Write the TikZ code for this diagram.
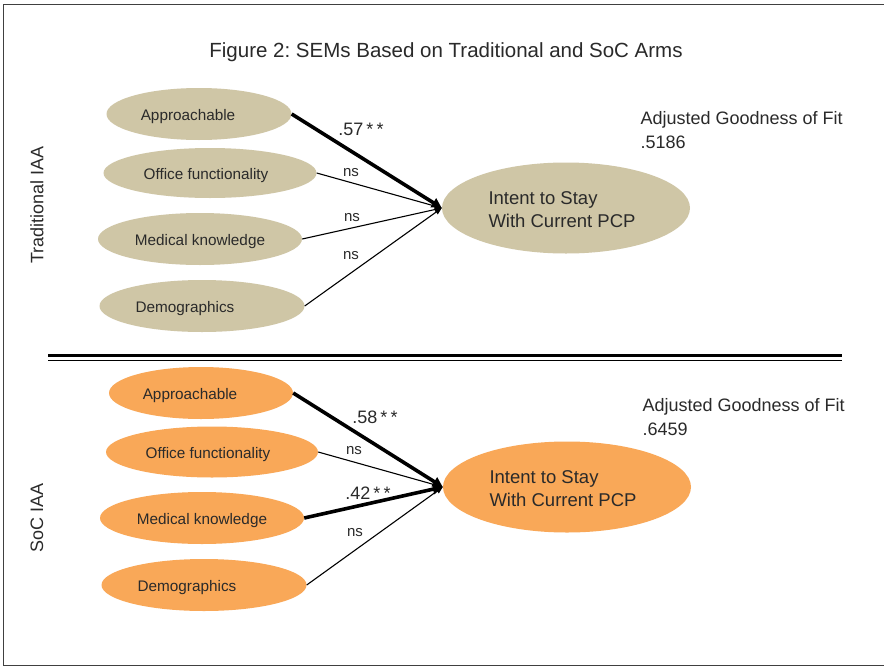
\documentclass[tikz,border=0pt]{standalone}
\usepackage{fontspec}
\setmainfont{Liberation Sans}
\usetikzlibrary{shapes.geometric,arrows.meta}
\definecolor{tanfill}{HTML}{CFC6A6}
\definecolor{orngfill}{HTML}{F9A858}
\definecolor{ink}{HTML}{2A2A2A}

\begin{document}
\begin{tikzpicture}[x=1pt,y=-1pt,
  factor/.style={ellipse, inner sep=0pt, draw=none, minimum height=52pt},
  outcome/.style={ellipse, inner sep=0pt, draw=none, minimum width=248pt, minimum height=91pt},
  ftext/.style={text=ink, yshift=-3pt, font=\fontsize{15.3}{17}\selectfont},
  otext/.style={text=ink, align=left, font=\fontsize{18.5}{23}\selectfont},
  sig/.style={line width=3.6pt, -{Triangle[length=10pt,width=10pt]}},
  nsig/.style={line width=1.1pt, -{Triangle[length=7pt,width=5.5pt]}},
  coef/.style={text=ink, font=\fontsize{18}{20}\selectfont},
  nslab/.style={text=ink, font=\fontsize{15}{16}\selectfont},
  side/.style={text=ink, rotate=90, font=\fontsize{18}{20}\selectfont},
  fit/.style={text=ink, align=left, anchor=west, font=\fontsize{18}{24}\selectfont},
]
\useasboundingbox (0,0) rectangle (884,667);
\fill[white] (0,0) rectangle (884,667);

% outer frame (right side runs off the page)
\draw[line width=1.5pt, black!75] (900,4.5) -- (3.5,4.5) -- (3.5,665.5) -- (900,665.5);

% title
\node[text=ink, font=\fontsize{20.5}{22}\selectfont] (title) at (446,52) {Figure 2:\ SEMs Based on Traditional and SoC Arms};

% ---------- Traditional IAA ----------
\node[side] (tlab) at (37,205) {Traditional IAA};
\node[factor, fill=tanfill, minimum width=185pt, label={[ftext, xshift=-11pt]center:Approachable}] (t1) at (199,114) {};
\node[factor, fill=tanfill, minimum width=213pt, minimum height=50pt, label={[ftext, xshift=-4pt]center:Office functionality}] (t2) at (210,173) {};
\node[factor, fill=tanfill, minimum width=204pt, label={[ftext]center:Medical knowledge}] (t3) at (200,239) {};
\node[factor, fill=tanfill, minimum width=205pt, label={[ftext, xshift=-17pt]center:Demographics}] (t4) at (202,306) {};
\node[outcome, fill=tanfill, label={[otext, xshift=-4pt, yshift=-2pt]center:Intent to Stay\\With Current PCP}] (tout) at (566,208) {};

\draw[nsig] (t2.east) -- (tout.west);
\draw[nsig] (t3.east) -- (tout.west);
\draw[nsig] (t4.east) -- (tout.west);
\draw[sig] (t1.east) -- (tout.west);

\node[coef] (tc1) at (361,129) {.57\,*\,*};
\node[nslab] (tc2) at (351,173) {ns};
\node[nslab] (tc3) at (352,218) {ns};
\node[nslab] (tc4) at (351,256) {ns};

\node[fit] (tfit) at (637,130) {Adjusted Goodness of Fit\\.5186};

% ---------- separator ----------
\draw[line width=2.6pt, black] (48,355.5) -- (842,355.5);
\draw[line width=1.3pt, black] (48,360.5) -- (842,360.5);

% ---------- SoC IAA ----------
\node[side] (slab) at (37,518) {SoC IAA};
\node[factor, fill=orngfill, minimum width=184pt, label={[ftext, xshift=-11pt]center:Approachable}] (s1) at (201,393) {};
\node[factor, fill=orngfill, minimum width=212pt, minimum height=51pt, label={[ftext, xshift=-4pt]center:Office functionality}] (s2) at (212,452) {};
\node[factor, fill=orngfill, minimum width=204pt, label={[ftext]center:Medical knowledge}] (s3) at (202,518) {};
\node[factor, fill=orngfill, minimum width=205pt, label={[ftext, xshift=-17pt]center:Demographics}] (s4) at (204,585) {};
\node[outcome, fill=orngfill, label={[otext, xshift=-4pt, yshift=-2pt]center:Intent to Stay\\With Current PCP}] (sout) at (567,487) {};

\draw[nsig] (s2.east) -- (sout.west);
\draw[nsig] (s4.east) -- (sout.west);
\draw[sig] (s1.east) -- (sout.west);
\draw[sig] (s3.east) -- (sout.west);

\node[coef] (sc1) at (375,417) {.58\,*\,*};
\node[nslab] (sc2) at (354,451) {ns};
\node[coef] (sc3) at (368,493) {.42\,*\,*};
\node[nslab] (sc4) at (355,533) {ns};

\node[fit] (sfit) at (639,417) {Adjusted Goodness of Fit\\.6459};
\end{tikzpicture}
\end{document}
